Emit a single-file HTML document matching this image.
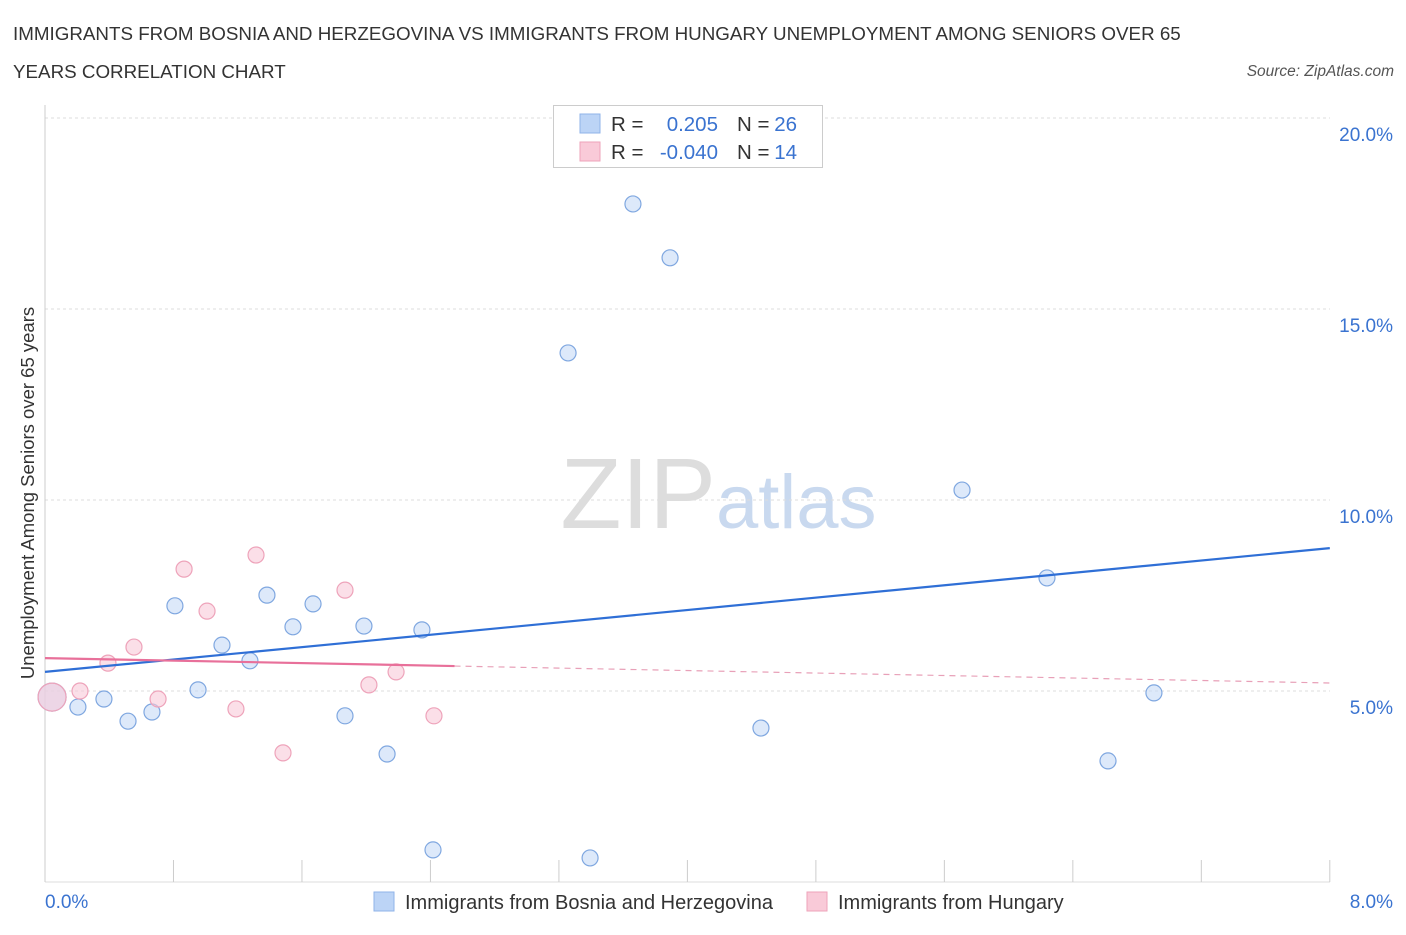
<!DOCTYPE html>
<html><head><meta charset="utf-8"><style>
body{margin:0;background:#fff;font-family:"Liberation Sans",sans-serif}
svg text{font-family:"Liberation Sans",sans-serif}
</style></head><body>
<svg id="c" width="1406" height="930" xmlns="http://www.w3.org/2000/svg">
<text x="13" y="40" font-size="18.8" fill="#333">IMMIGRANTS FROM BOSNIA AND HERZEGOVINA VS IMMIGRANTS FROM HUNGARY UNEMPLOYMENT AMONG SENIORS OVER 65</text>
<text x="13" y="78" font-size="18.8" fill="#333">YEARS CORRELATION CHART</text>
<text x="1394" y="76" font-size="15.5" fill="#555" font-style="italic" text-anchor="end">Source: ZipAtlas.com</text>
<text x="716" y="528" font-size="100" fill="#ddd" text-anchor="end" font-family="Liberation Serif">ZIP</text>
<text x="716" y="528" font-size="76" fill="#c9d9ef">atlas</text>
<text transform="translate(34,493) rotate(-90)" font-size="18.5" fill="#333" text-anchor="middle">Unemployment Among Seniors over 65 years</text>
<g id="grid"></g><g id="marks"></g>
<g>
<rect x="553.5" y="105.5" width="269" height="62" fill="#fff" stroke="#ccc"/>
<rect x="580" y="114" width="20" height="19" fill="#bcd4f6" stroke="#8fb3e8"/>
<text x="611" y="131" font-size="20.5" fill="#333">R =</text><text x="718" y="131" font-size="20.5" fill="#3a73d0" text-anchor="end">0.205</text>
<text x="737" y="131" font-size="20.5" fill="#333">N =</text><text x="797" y="131" font-size="20.5" fill="#3a73d0" text-anchor="end">26</text>
<rect x="580" y="142" width="20" height="19" fill="#f9cad8" stroke="#eea3ba"/>
<text x="611" y="159" font-size="20.5" fill="#333">R =</text><text x="718" y="159" font-size="20.5" fill="#3a73d0" text-anchor="end">-0.040</text>
<text x="737" y="159" font-size="20.5" fill="#333">N =</text><text x="797" y="159" font-size="20.5" fill="#3a73d0" text-anchor="end">14</text>
</g>
<g>
<rect x="374" y="892" width="20" height="19" fill="#bcd4f6" stroke="#8fb3e8"/>
<text x="405" y="909" font-size="20" fill="#333">Immigrants from Bosnia and Herzegovina</text>
<rect x="807" y="892" width="20" height="19" fill="#f9cad8" stroke="#eea3ba"/>
<text x="838" y="909" font-size="20" fill="#333">Immigrants from Hungary</text>
</g>
<text x="45" y="908" font-size="19" fill="#3a73d0">0.0%</text>
<text x="1393" y="908" font-size="19" fill="#3a73d0" text-anchor="end">8.0%</text>
</svg>
<script>
const yTicks=[5,10,15,20];
const yTickLabels=["5.0%","10.0%","15.0%","20.0%"];
const blueX=[0.044,0.205,0.367,0.517,0.666,0.809,0.953,1.102,1.276,1.382,1.544,1.669,1.868,1.986,2.130,2.347,2.416,3.257,3.394,3.661,3.892,4.458,5.710,6.239,6.619,6.905];
const blueY=[4.84,4.58,4.79,4.21,4.45,7.23,5.03,6.20,5.79,7.51,6.68,7.28,4.35,6.70,3.35,6.60,0.84,13.85,0.63,17.75,16.34,4.03,10.26,7.96,3.17,4.95];
const pinkX=[0.044,0.218,0.392,0.554,0.704,0.866,1.009,1.189,1.314,1.482,1.868,2.017,2.186,2.422];
const pinkY=[4.84,5.00,5.73,6.15,4.79,8.19,7.09,4.53,8.56,3.38,7.64,5.16,5.50,4.35];
const blueTrend=[5.50,8.74];
const pinkTrend=[5.86,5.21];
const pinkSolidEnd=2.55;
const X=v=>45+v*160.6, Y=v=>882-v*38.2;
const NS="http://www.w3.org/2000/svg";
const grid=document.getElementById('grid'),marks=document.getElementById('marks');
function mk(p,tag,a){const e=document.createElementNS(NS,tag);for(const k in a)e.setAttribute(k,a[k]);p.appendChild(e);return e;}
yTicks.forEach((t,i)=>{
 const l=mk(grid,'line',{x1:45,x2:1330,y1:Y(t),y2:Y(t),stroke:'#ddd','stroke-dasharray':'3,3'});
 
 
 const tx=mk(grid,'text',{x:1393,y:Y(t)+23,'font-size':19,fill:'#3a73d0','text-anchor':'end'});tx.textContent=yTickLabels[i];
 
 
});
const ax=mk(grid,'line',{x1:45,x2:45,y1:105,y2:882,stroke:'#ccc'});


const bx=mk(grid,'line',{x1:45,x2:1330,y1:882,y2:882,stroke:'#ddd'});


for(let i=0;i<=10;i++){const v=i*0.8;const t=mk(grid,'line',{x1:X(v),x2:X(v),y1:860,y2:882,stroke:'#ccc'});
 
 }
function pts(xs,ys,fill,stroke,name){xs.forEach((x,i)=>{const r=i===0?14:8;
 const c=mk(marks,'circle',{cx:X(x),cy:Y(ys[i]),r:r,fill:fill,stroke:stroke,'stroke-width':1.2,'fill-opacity':0.6});
 
 });}
pts(blueX,blueY,'#c6dbf7','#7fa7e0','bosnia-point');
pts(pinkX,pinkY,'#f9cad8','#eea3ba','hungary-point');
const bl=mk(marks,'line',{x1:X(0),y1:Y(blueTrend[0]),x2:X(8),y2:Y(blueTrend[1]),stroke:'#2f6fd6','stroke-width':2.2});


const pAt=v=>pinkTrend[0]+(pinkTrend[1]-pinkTrend[0])*v/8;
const ps=mk(marks,'line',{x1:X(0),y1:Y(pinkTrend[0]),x2:X(pinkSolidEnd),y2:Y(pAt(pinkSolidEnd)),stroke:'#e8709a','stroke-width':2.2});


const pd=mk(marks,'line',{x1:X(pinkSolidEnd),y1:Y(pAt(pinkSolidEnd)),x2:X(8),y2:Y(pinkTrend[1]),stroke:'#e8a0b8','stroke-width':1.2,'stroke-dasharray':'6,5'});


</script>
</body></html>
